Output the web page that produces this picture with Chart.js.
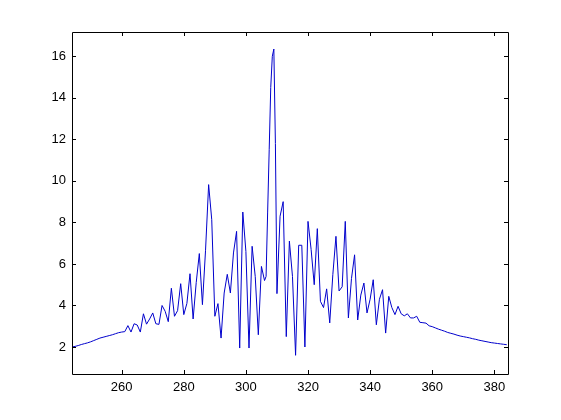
<!DOCTYPE html>
<html>
<head>
<meta charset="utf-8">
<script src="https://cdn.jsdelivr.net/npm/chart.js@4/dist/chart.umd.min.js"></script>
<style>
  html, body { margin: 0; padding: 0; background: #fff; }
  canvas { display: block; }
</style>
</head>
<body>
<canvas id="plot" width="561" height="420"></canvas>
<script>
// x positions of the samples
const xs = [
  244, 245, 246, 247, 248, 249, 250, 251, 252, 253,
  254, 255, 256, 257, 258, 259, 260, 261, 262, 263,
  264, 265, 266, 267, 268, 269, 270, 271, 272, 273,
  274, 275, 276, 277, 278, 279, 280, 281, 282, 283,
  284, 285, 286, 287, 288, 289, 290, 291, 292, 293,
  294, 295, 296, 297, 298, 299, 300, 301, 302, 303,
  304, 305, 306, 306.5, 307, 307.5, 308, 308.5, 309, 309.5,
  310, 311, 312, 313, 314, 315, 316, 317, 318, 319,
  320, 321, 322, 323, 324, 325, 326, 327, 328, 329,
  330, 331, 332, 333, 334, 335, 336, 337, 338, 339,
  340, 341, 342, 343, 344, 345, 346, 347, 348, 349,
  350, 351, 352, 353, 354, 355, 356, 357, 358, 359,
  360, 361, 362, 363, 364, 365, 366, 367, 368, 369,
  370, 371, 372, 373, 374, 375, 376, 377, 378, 379,
  380, 381, 382, 383, 384
];

const ys = [
  2.00, 2.03, 2.07, 2.12, 2.16, 2.20, 2.25, 2.31, 2.37, 2.43,
  2.47, 2.51, 2.55, 2.59, 2.64, 2.69, 2.72, 2.74, 3.03, 2.72,
  3.12, 3.06, 2.72, 3.60, 3.10, 3.35, 3.64, 3.12, 3.09, 4.00,
  3.72, 3.22, 4.83, 3.48, 3.75, 5.05, 3.56, 4.10, 5.53, 3.35,
  5.10, 6.50, 4.04, 6.66, 9.82, 8.13, 3.48, 4.09, 2.43, 4.60,
  5.50, 4.60, 6.53, 7.57, 1.95, 8.50, 6.60, 1.95, 6.85, 5.40,
  2.59, 5.88, 5.20, 5.40, 8.50, 11.5, 14.5, 16.0, 16.35, 11.8,
  4.57, 8.30, 9.00, 2.50, 7.10, 5.40, 1.60, 6.90, 6.90, 2.00,
  8.05, 6.70, 5.00, 7.70, 4.20, 3.90, 4.80, 3.16, 5.50, 7.33,
  4.70, 4.90, 8.05, 3.40, 5.30, 6.44, 3.30, 4.50, 5.08, 3.64,
  4.30, 5.24, 3.07, 4.30, 4.76, 2.67, 4.44, 3.90, 3.56, 3.96,
  3.60, 3.50, 3.60, 3.40, 3.40, 3.48, 3.19, 3.17, 3.15, 3.02,
  2.98, 2.92, 2.86, 2.81, 2.76, 2.70, 2.66, 2.62, 2.57, 2.53,
  2.50, 2.47, 2.44, 2.40, 2.37, 2.33, 2.30, 2.27, 2.24, 2.21,
  2.19, 2.17, 2.15, 2.13, 2.11
];

// tick labels
const xTicks = [260, 280, 300, 320, 340, 360, 380];
const yTicks = [2, 4, 6, 8, 10, 12, 14, 16];

const tickFont = { family: "'Liberation Sans', Arial, sans-serif", size: 13 };

// box around the axes with inward ticks on all four sides
const boxTicks = {
  id: "boxTicks",
  afterDraw(chart) {
    const ctx = chart.ctx;
    const a = chart.chartArea;
    const sx = chart.scales.x;
    const sy = chart.scales.y;
    const len = 4;

    ctx.save();
    ctx.strokeStyle = "#000";
    ctx.lineWidth = 1;
    ctx.beginPath();
    ctx.rect(Math.round(a.left) + 0.5, Math.round(a.top) + 0.5,
             Math.round(a.right - a.left), Math.round(a.bottom - a.top));

    xTicks.forEach((v) => {
      const px = Math.round(sx.getPixelForValue(v)) + 0.5;
      ctx.moveTo(px, a.bottom);
      ctx.lineTo(px, a.bottom - len);
      ctx.moveTo(px, a.top);
      ctx.lineTo(px, a.top + len);
    });
    yTicks.forEach((v) => {
      const py = Math.round(sy.getPixelForValue(v)) + 0.5;
      ctx.moveTo(a.left, py);
      ctx.lineTo(a.left + len, py);
      ctx.moveTo(a.right, py);
      ctx.lineTo(a.right - len, py);
    });
    ctx.stroke();
    ctx.restore();
  }
};

new Chart(document.getElementById("plot"), {
  type: "line",
  data: {
    datasets: [{
      data: xs.map((x, i) => ({ x: x, y: ys[i] })),
      borderColor: "#0000cc",
      borderWidth: 1,
      pointRadius: 0,
      tension: 0,
      fill: false
    }]
  },
  options: {
    responsive: false,
    animation: false,
    layout: { padding: { top: 32, right: 53, left: 0, bottom: 0 } },
    plugins: {
      legend: { display: false },
      tooltip: { enabled: false }
    },
    scales: {
      x: {
        type: "linear",
        min: 244,
        max: 384.4,
        grid: { display: false, drawTicks: false },
        border: { display: false },
        afterBuildTicks: (s) => { s.ticks = xTicks.map((v) => ({ value: v })); },
        afterFit: (s) => { s.height = 46; },
        ticks: { color: "#000", font: tickFont, padding: 6, maxRotation: 0, autoSkip: false }
      },
      y: {
        type: "linear",
        min: 0.7,
        max: 17.17,
        grid: { display: false, drawTicks: false },
        border: { display: false },
        afterBuildTicks: (s) => { s.ticks = yTicks.map((v) => ({ value: v })); },
        afterFit: (s) => { s.width = 72; },
        ticks: { color: "#000", font: tickFont, padding: 6, autoSkip: false }
      }
    }
  },
  plugins: [boxTicks]
});
</script>
</body>
</html>
